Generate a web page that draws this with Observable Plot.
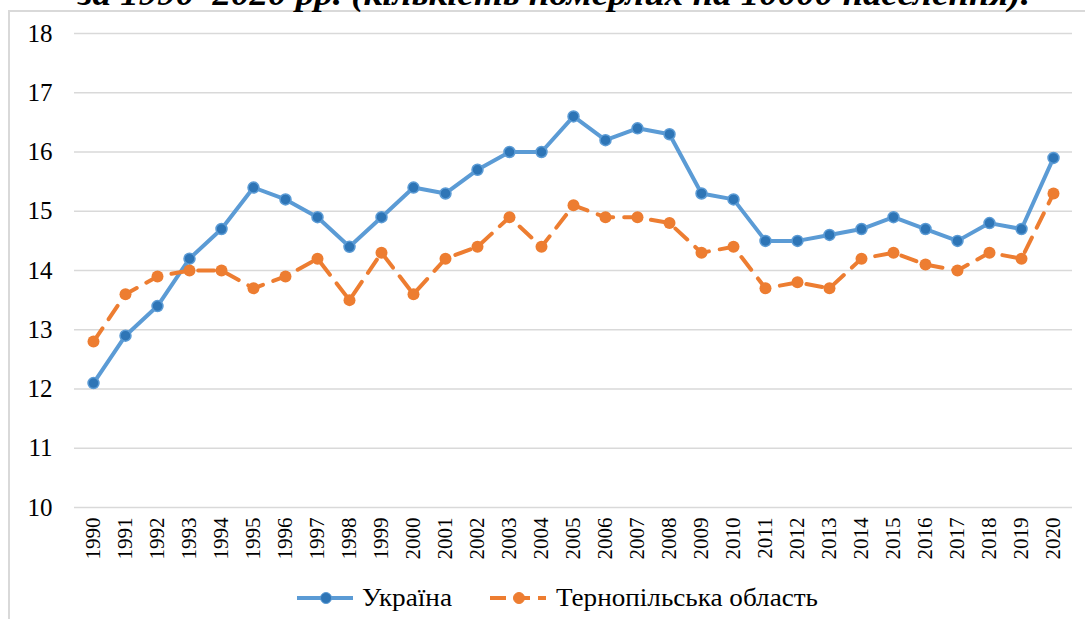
<!DOCTYPE html>
<html>
<head>
<meta charset="utf-8">
<script src="https://cdn.jsdelivr.net/npm/d3@7"></script>
<script src="https://cdn.jsdelivr.net/npm/@observablehq/plot@0.6"></script>
</head>
<body style="margin:0;padding:0;background:#fff;font-family:'Times New Roman', 'Liberation Serif', serif">
<div id="wrap" style="position:relative;width:1085px;height:619px;font-family:'Times New Roman', 'Liberation Serif', serif">
  <div style="position:absolute;left:8px;top:10px;width:1075px;height:607px;border-left:2px solid #d9d9d9;border-top:2px solid #d9d9d9"></div>
  <svg id="titleSvg" width="1085" height="14" style="position:absolute;left:0;top:0">
    <text id="title" x="78" y="5" font-family="Times New Roman, Liberation Serif, serif" font-size="33" font-weight="bold" font-style="italic" fill="#000" textLength="952" lengthAdjust="spacingAndGlyphs"></text>
  </svg>
  <div id="chart" style="position:absolute;left:0;top:0"></div>
  <svg id="legend" width="1085" height="36" style="position:absolute;left:0;top:580px"></svg>
</div>
<script>
const titleText = "за 1990–2020 рр. (кількість померлих на 10000 населення).";
const years = ["1990","1991","1992","1993","1994","1995","1996","1997","1998","1999","2000","2001","2002","2003","2004","2005","2006","2007","2008","2009","2010","2011","2012","2013","2014","2015","2016","2017","2018","2019","2020"];
const ukraine = [12.1,12.9,13.4,14.2,14.7,15.4,15.2,14.9,14.4,14.9,15.4,15.3,15.7,16.0,16.0,16.6,16.2,16.4,16.3,15.3,15.2,14.5,14.5,14.6,14.7,14.9,14.7,14.5,14.8,14.7,15.9];
const ternopil = [12.8,13.6,13.9,14.0,14.0,13.7,13.9,14.2,13.5,14.3,13.6,14.2,14.4,14.9,14.4,15.1,14.9,14.9,14.8,14.3,14.4,13.7,13.8,13.7,14.2,14.3,14.1,14.0,14.3,14.2,15.3];
const seriesNames = ["Україна", "Тернопільська область"];
const yTicks = [10,11,12,13,14,15,16,17,18];

document.getElementById("title").textContent = titleText;

const uaData = years.map((y, i) => ({year: y, value: ukraine[i], series: seriesNames[0]}));
const teData = years.map((y, i) => ({year: y, value: ternopil[i], series: seriesNames[1]}));

const blue = "#5B9BD5", blueDark = "#2E75B6", orange = "#ED7D31";
const serif = "Times New Roman, Liberation Serif, serif";

const chart = Plot.plot({
  width: 1085,
  height: 575,
  marginTop: 33,
  marginBottom: 68,
  marginLeft: 74,
  marginRight: 13,
  style: {fontFamily: serif, background: "transparent", color: "#000"},
  x: {type: "point", domain: years, padding: 0.5, label: null},
  y: {domain: [10, 18], label: null},
  marks: [
    Plot.ruleY(yTicks, {stroke: "#d9d9d9", strokeWidth: 1.5}),
    Plot.axisY(yTicks, {tickSize: 0, tickPadding: 22, fontSize: 25, label: null, tickFormat: d => String(d), fontFamily: serif}),
    Plot.axisX(years, {tickSize: 0, tickPadding: 10, tickRotate: -90, fontSize: 21, label: null, fontFamily: serif}),
    Plot.line(uaData, {x: "year", y: "value", stroke: blue, strokeWidth: 4, strokeLinejoin: "round"}),
    Plot.dot(uaData, {x: "year", y: "value", r: 5.5, fill: blueDark, stroke: blue, strokeWidth: 1.5}),
    Plot.line(teData, {x: "year", y: "value", stroke: orange, strokeWidth: 4, strokeDasharray: "16,11"}),
    Plot.dot(teData, {x: "year", y: "value", r: 6, fill: orange})
  ]
});
document.getElementById("chart").appendChild(chart);

// legend: line + marker + label (label widths fitted to the reference)
const legend = d3.select("#legend");
const items = [
  {name: seriesNames[0], x: 297, line: blue, dot: blueDark, dash: null, textX: 362, textW: 90},
  {name: seriesNames[1], x: 490, line: orange, dot: orange, dash: "16,8", textX: 556, textW: 262}
];
for (const it of items) {
  legend.append("line").attr("x1", it.x).attr("x2", it.x + 56).attr("y1", 18).attr("y2", 18)
    .attr("stroke", it.line).attr("stroke-width", 4).attr("stroke-dasharray", it.dash);
  legend.append("circle").attr("cx", it.x + 29).attr("cy", 18).attr("r", 5.5)
    .attr("fill", it.dot).attr("stroke", it.line).attr("stroke-width", 1);
  legend.append("text").attr("x", it.textX).attr("y", 26).text(it.name)
    .attr("font-family", serif).attr("font-size", 25).attr("fill", "#000")
    .attr("textLength", it.textW).attr("lengthAdjust", "spacingAndGlyphs");
}
</script>
</body>
</html>
